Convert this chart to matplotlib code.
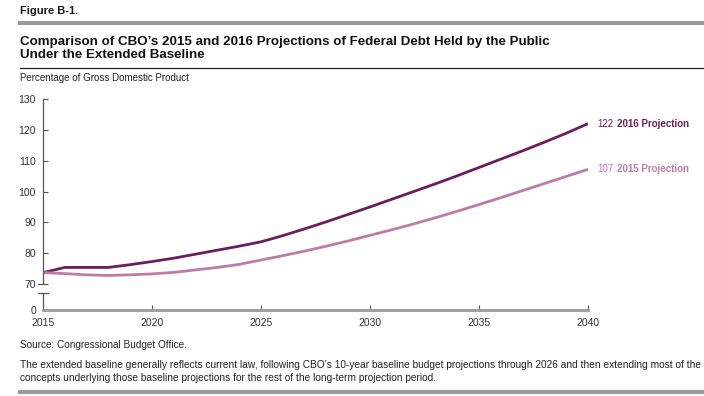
import matplotlib
matplotlib.use("Agg")
import matplotlib.pyplot as plt
from matplotlib.lines import Line2D

plt.rcParams['font.family'] = ['Liberation Sans', 'DejaVu Sans']

years = list(range(2015, 2041))
proj_2016 = [73.7, 75.4, 75.4, 75.4, 76.3, 77.3, 78.4, 79.7, 81.0, 82.3,
             83.7, 85.7, 87.9, 90.2, 92.6, 95.0, 97.5, 100.0, 102.5, 105.1,
             107.8, 110.5, 113.2, 116.0, 118.9, 122.0]
proj_2015 = [73.7, 73.4, 73.0, 72.8, 73.0, 73.3, 73.8, 74.6, 75.4, 76.4,
             77.8, 79.2, 80.7, 82.3, 84.0, 85.8, 87.6, 89.5, 91.5, 93.6,
             95.8, 98.0, 100.3, 102.6, 104.9, 107.2]
series = [("2016 Projection", proj_2016, "#6b1d5f"),
          ("2015 Projection", proj_2015, "#bf7ba7")]
y_ticks = [70, 80, 90, 100, 110, 120, 130]
x_ticks = [2015, 2020, 2025, 2030, 2035, 2040]
zero_pos = 61.6   # where the "0" of the broken axis sits

fig = plt.figure(figsize=(7.04, 3.96), dpi=100)
ax = fig.add_axes([43 / 704, (396 - 310) / 396, 545 / 704, 211 / 396])

for name, vals, col in series:
    ax.plot(years, vals, color=col, lw=2.0, solid_capstyle='butt')
    ax.text(2040.45, vals[-1], f"{vals[-1]:.0f}", color=col, fontsize=7,
            va='center', ha='left')
    ax.text(2041.35, vals[-1], name, color=col, fontsize=7, va='center',
            ha='left', fontweight='bold')

ax.set_xlim(2015, 2040)
ax.set_ylim(zero_pos, 130)
ax.set_xticks(x_ticks)
ax.set_yticks([zero_pos] + y_ticks)
ax.set_yticklabels(["0"] + [str(t) for t in y_ticks])
for s in ['top', 'right', 'left']:
    ax.spines[s].set_visible(False)
ax.spines['bottom'].set_color('#9a9a9a')
ax.spines['bottom'].set_linewidth(2)
ax.tick_params(axis='x', direction='in', length=3.5, width=0.8, color='#555555',
               labelsize=7.5, labelcolor='#333333', pad=6)
ax.tick_params(axis='y', direction='in', length=3.5, width=0.8, color='#555555',
               labelsize=7.5, labelcolor='#333333', pad=5)
ax.yaxis.get_major_ticks()[0].tick1line.set_visible(False)
ax.xaxis.get_major_ticks()[0].tick1line.set_visible(False)

# broken y axis
ax.plot([2015, 2015], [70, 130], color='#555555', lw=0.9, clip_on=False)
ax.plot([2015, 2015], [zero_pos, 67.0], color='#555555', lw=0.9, clip_on=False)
ax.plot([2014.75, 2015.25], [67.0, 67.0], color='#555555', lw=0.9, clip_on=False)
ax.plot([2014.75, 2015], [70, 70], color='#555555', lw=0.9, clip_on=False)

# header and footer
fig.text(20 / 704, 1 - 11 / 396, "Figure B-1.", fontsize=8, fontweight='bold',
         va='center', ha='left', color='#1a1a1a')
fig.add_artist(Line2D([20 / 704, 1], [1 - 23 / 396] * 2, color='#9a9a9a', lw=3))
fig.text(20 / 704, 1 - 48.5 / 396,
         "Comparison of CBO’s 2015 and 2016 Projections of Federal Debt Held by the Public\n"
         "Under the Extended Baseline",
         fontsize=9.6, fontweight='bold', va='center', ha='left', color='#111111',
         linespacing=1.2)
fig.add_artist(Line2D([20 / 704, 1], [1 - 68 / 396] * 2, color='#222222', lw=0.9))
fig.text(20 / 704, 1 - 78 / 396, "Percentage of Gross Domestic Product",
         fontsize=7, va='center', ha='left', color='#222222')
fig.text(20 / 704, 1 - 345 / 396, "Source: Congressional Budget Office.",
         fontsize=7.2, va='center', ha='left', color='#222222')
fig.text(20 / 704, 1 - 371.5 / 396,
         "The extended baseline generally reflects current law, following CBO’s 10-year "
         "baseline budget projections through 2026 and then extending most of the\n"
         "concepts underlying those baseline projections for the rest of the "
         "long-term projection period.",
         fontsize=7.25, va='center', ha='left', color='#222222', linespacing=1.4)
fig.add_artist(Line2D([20 / 704, 1], [1 - 392 / 396] * 2, color='#9a9a9a', lw=3))

fig.savefig("out.png", dpi=100)
